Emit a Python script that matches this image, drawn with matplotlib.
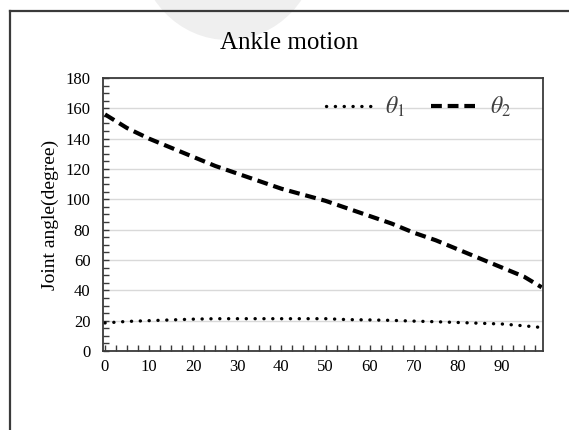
import matplotlib
matplotlib.use("Agg")
import matplotlib.pyplot as plt
from matplotlib.patches import Ellipse
from matplotlib.ticker import MultipleLocator

plt.rcParams['mathtext.fontset'] = 'stix'

# Data
x = [0, 5, 10, 15, 20, 25, 30, 35, 40, 45, 50, 55, 60, 65, 70, 75, 80, 85, 90, 95, 99]
theta1 = [18.5, 19.5, 20.0, 20.5, 21.0, 21.3, 21.3, 21.3, 21.3, 21.3, 21.3, 20.7, 20.5,
          20.2, 19.7, 19.3, 18.8, 18.3, 17.8, 16.6, 15.5]
theta2 = [156, 147, 140, 134, 128, 122, 117, 112, 107, 103, 99, 94, 89, 84, 78, 73,
          67, 61, 55, 49, 42]
xticks = [0, 10, 20, 30, 40, 50, 60, 70, 80, 90]
yticks = [0, 20, 40, 60, 80, 100, 120, 140, 160, 180]

W, H = 569, 430
fig = plt.figure(figsize=(W / 100, H / 100), dpi=100)

# watermark blob and outer chart border
fig.patches.append(Ellipse((228 / W, 1 - (-55) / H), 180 / W, 190 / H,
                           transform=fig.transFigure, facecolor='#efefef',
                           edgecolor='none', zorder=0))
fig.add_artist(plt.Line2D([10 / W, 10 / W], [0, 1 - 11 / H], transform=fig.transFigure,
                          color='#3a3a3a', lw=1.6))
fig.add_artist(plt.Line2D([10 / W, 1], [1 - 11 / H, 1 - 11 / H], transform=fig.transFigure,
                          color='#3a3a3a', lw=1.6))

ax = fig.add_axes([103 / W, (H - 351) / H, (543 - 103) / W, (351 - 78) / H])
ax.set_facecolor('none')

ax.plot(x, theta1, color='black', lw=2.4, linestyle=(0, (0.05, 2.6)),
        dash_capstyle='round', label=r'$\theta_1$')
ax.plot(x, theta2, color='black', lw=3.0, linestyle=(0, (2.6, 1.4)),
        label=r'$\theta_2$')

ax.set_xlim(-0.45, 99.3)
ax.set_ylim(0, 180)
ax.set_xticks(xticks)
ax.set_yticks(yticks)
ax.xaxis.set_minor_locator(MultipleLocator(2.5))
ax.yaxis.set_minor_locator(MultipleLocator(5))
ax.grid(axis='y', which='major', color='#d9d9d9', lw=1.0)
ax.set_axisbelow(True)

for s in ax.spines.values():
    s.set_color('#3a3a3a')
    s.set_linewidth(1.3)

ax.tick_params(which='both', direction='in', color='#3a3a3a', width=1.0)
ax.tick_params(which='major', length=4)
ax.tick_params(which='minor', length=4)
ax.tick_params(axis='y', which='major', pad=9)
ax.tick_params(axis='x', which='major', pad=6)
for lab in ax.get_xticklabels() + ax.get_yticklabels():
    lab.set_fontfamily('Liberation Serif')
    lab.set_fontsize(12)

ax.set_ylabel('Joint angle(degree)', fontfamily='Liberation Serif', fontsize=14,
              labelpad=5)

fig.text(289 / W, 1 - 43 / H, 'Ankle motion', fontfamily='Liberation Serif',
         fontsize=18, ha='center', va='center')

leg = ax.legend(loc='center right', bbox_to_anchor=(0.975, 1 - 29 / 273), ncol=2,
                frameon=False, handlelength=1.9, columnspacing=1.1, handletextpad=0.6,
                fontsize=17)
for t in leg.get_texts():
    t.set_color('#404040')

fig.savefig('out.png', dpi=100)
